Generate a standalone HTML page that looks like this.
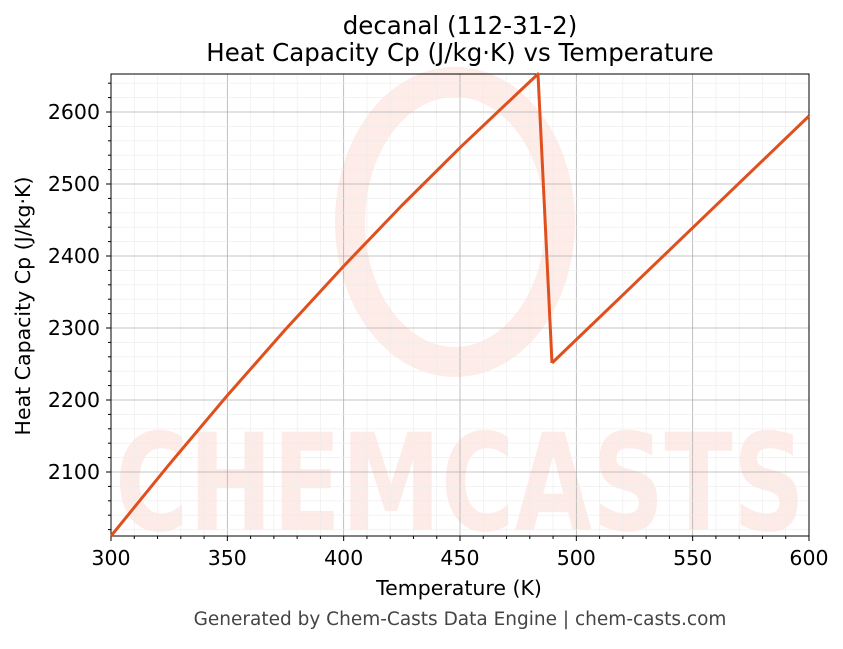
<!DOCTYPE html>
<html><head><meta charset="utf-8"><style>
body{margin:0;background:#fff;}
svg text{font-family:"DejaVu Sans","Liberation Sans",sans-serif;}
</style></head><body>
<svg width="843" height="644" viewBox="0 0 843 644" xmlns="http://www.w3.org/2000/svg">
<rect width="843" height="644" fill="#fff"/>
<g opacity="0.13" fill="#f26a50">
<ellipse cx="455" cy="222" rx="105" ry="140" fill="none" stroke="#f26a50" stroke-width="30"/>
<text x="460" y="530" font-size="135" font-weight="bold" text-anchor="middle" textLength="690" lengthAdjust="spacingAndGlyphs">CHEMCASTS</text>
</g>
<g id="grid"></g>
<script>
(function(){
var ns="http://www.w3.org/2000/svg",g=document.getElementById("grid");
function ln(x1,y1,x2,y2,c,w){var l=document.createElementNS(ns,"line");l.setAttribute("x1",x1);l.setAttribute("y1",y1);l.setAttribute("x2",x2);l.setAttribute("y2",y2);l.setAttribute("stroke",c);l.setAttribute("stroke-width",w);g.appendChild(l);}
for(var T=300;T<=600;T+=10){var x=111+(T-300)*2.32667;var maj=(T%50==0);ln(x,74,x,536,maj?"#b0b0b0":"#ececec",maj?0.8:0.6);ln(x,536,x,536+(maj?5:3),"#000",1);}
for(var C=2020;C<=2640;C+=20){var y=112+(2600-C)*0.72;var maj=(C%100==0);ln(111,y,809,y,maj?"#b0b0b0":"#ececec",maj?0.8:0.6);ln(111,y,111-(maj?5:3),y,"#000",1);}
})();
</script>
<rect x="111" y="74" width="698" height="462" fill="none" stroke="#000" stroke-width="1"/>
<polyline fill="none" stroke="#e0501e" stroke-width="3" stroke-linejoin="round"
points="111,536 169.2,464.4 227.3,395.5 285.5,329.4 343.7,266.1 401.8,205.5 460,147.7 518.2,92.6 538,74 552,363"/>
<path d="M552,363 Q680,240 809,116" fill="none" stroke="#e0501e" stroke-width="3"/>
<g font-size="20.5" fill="#000" text-anchor="middle">
<text x="111" y="565">300</text><text x="227.3" y="565">350</text><text x="343.7" y="565">400</text>
<text x="460" y="565">450</text><text x="576.3" y="565">500</text><text x="692.7" y="565">550</text><text x="809" y="565">600</text>
</g>
<g font-size="20.5" fill="#000" text-anchor="end">
<text x="100" y="119">2600</text><text x="100" y="191">2500</text><text x="100" y="263">2400</text>
<text x="100" y="335">2300</text><text x="100" y="407">2200</text><text x="100" y="479">2100</text>
</g>
<text x="459" y="595" font-size="20.5" text-anchor="middle">Temperature (K)</text>
<text transform="translate(30,306) rotate(-90)" font-size="20.5" text-anchor="middle">Heat Capacity Cp (J/kg·K)</text>
<text x="460" y="34" font-size="24.5" text-anchor="middle">decanal (112-31-2)</text>
<text x="460" y="61" font-size="24.5" text-anchor="middle">Heat Capacity Cp (J/kg·K) vs Temperature</text>
<text x="460" y="625" font-size="18.5" fill="#444" text-anchor="middle">Generated by Chem-Casts Data Engine | chem-casts.com</text>
</svg>
</body></html>
